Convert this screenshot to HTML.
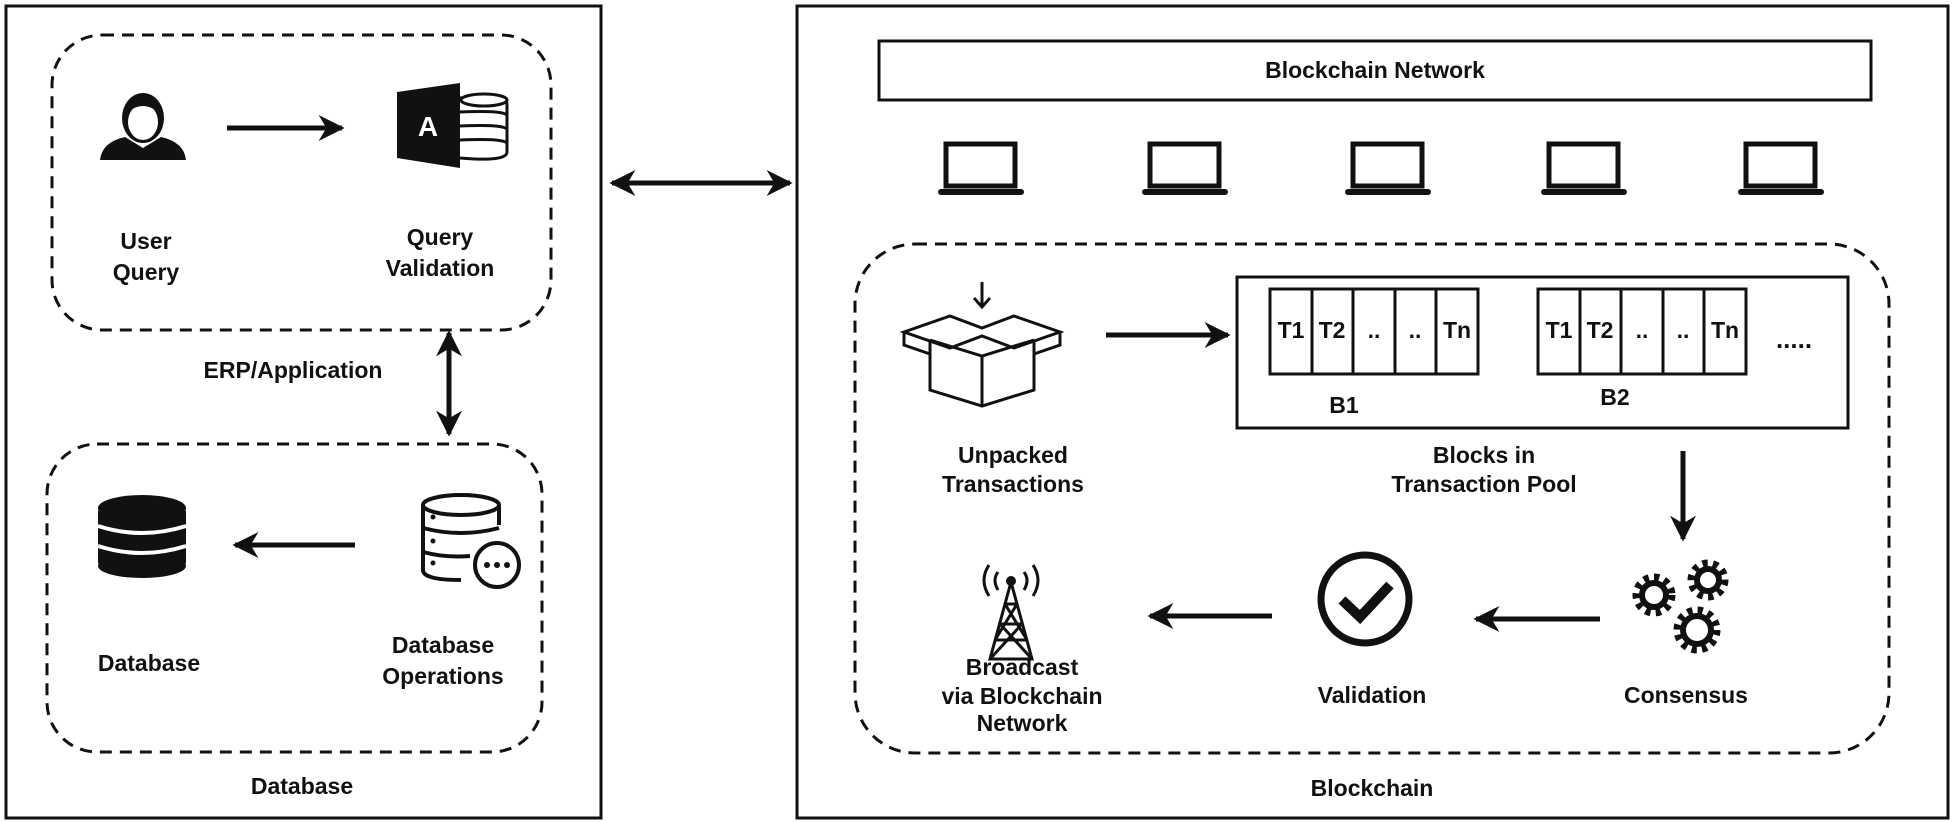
<!DOCTYPE html>
<html><head><meta charset="utf-8"><style>
html,body{margin:0;padding:0;background:#fff}
svg{display:block}
text{font-family:"Liberation Sans",Arial,sans-serif;font-weight:bold;font-size:23px;fill:#111;text-anchor:middle}
</style></head><body>
<svg width="1955" height="822" viewBox="0 0 1955 822" xmlns="http://www.w3.org/2000/svg">
<defs>
<marker id="ah" markerWidth="28" markerHeight="26" refX="9" refY="5" orient="auto-start-reverse" markerUnits="userSpaceOnUse" viewBox="0 0 10 10">
<path d="M0,0 L10,5 L0,10 L3,5 Z" fill="#111"/>
</marker>
</defs>
<g fill="none" stroke="#111">
<rect x="6" y="6" width="595" height="812" stroke-width="3"/>
<rect x="797" y="6" width="1151" height="812" stroke-width="3"/>
<rect x="52" y="35" width="499" height="295" rx="50" stroke-width="3" stroke-dasharray="12,8"/>
<rect x="47" y="444" width="495" height="308" rx="50" stroke-width="3" stroke-dasharray="12,8"/>
<rect x="855" y="244" width="1034" height="509" rx="60" stroke-width="3" stroke-dasharray="12,8"/>
<rect x="879" y="41" width="992" height="59" stroke-width="3"/>
<rect x="1237" y="277" width="611" height="151" stroke-width="3"/>
</g>
<g stroke="#111" stroke-width="5" fill="none">
<line x1="612" y1="183" x2="790" y2="183" marker-start="url(#ah)" marker-end="url(#ah)"/>
<line x1="449" y1="333" x2="449" y2="434" marker-start="url(#ah)" marker-end="url(#ah)"/>
<line x1="227" y1="128" x2="342" y2="128" marker-end="url(#ah)"/>
<line x1="355" y1="545" x2="235" y2="545" marker-end="url(#ah)"/>
<line x1="1106" y1="335" x2="1228" y2="335" marker-end="url(#ah)"/>
<line x1="1683" y1="451" x2="1683" y2="539" marker-end="url(#ah)"/>
<line x1="1600" y1="619" x2="1476" y2="619" marker-end="url(#ah)"/>
<line x1="1272" y1="616" x2="1150" y2="616" marker-end="url(#ah)"/>
</g>
<g fill="#111">
<ellipse cx="143" cy="118" rx="21" ry="25"/>
<path d="M100,160 Q102,142 125,137 L143,148 L161,137 Q184,142 186,160 Z"/>
</g>
<ellipse cx="143" cy="122" rx="15" ry="18" fill="#fff"/>
<path d="M128,112 Q143,100 158,112 L158,104 Q143,92 128,104Z" fill="#111"/>
<path d="M397,92 L460,83 L460,168 L397,158 Z" fill="#111"/>
<text x="428" y="136" style="fill:#fff;font-size:28px">A</text>
<g fill="#fff" stroke="#111" stroke-width="3">
<path d="M460,98 Q507,94 507,104 L507,152 Q507,162 460,158"/>
<path d="M460,112 Q507,110 507,116 M460,126 Q507,124 507,130 M460,140 Q507,138 507,144"/>
<ellipse cx="484" cy="100" rx="23" ry="6"/>
</g>
<g fill="#111">
<ellipse cx="142" cy="508" rx="44" ry="13"/>
<rect x="98" y="508" width="88" height="58" rx="4"/>
<ellipse cx="142" cy="566" rx="44" ry="12"/>
</g>
<g stroke="#fff" stroke-width="4" fill="none">
<path d="M98,526 Q142,540 186,526 M98,546 Q142,560 186,546"/>
</g>
<g fill="none" stroke="#111" stroke-width="4">
<ellipse cx="461" cy="505" rx="38" ry="10"/>
<path d="M423,505 L423,570 Q423,580 461,580 M499,505 L499,525"/>
<path d="M423,528 Q461,538 499,528 M423,552 Q445,558 470,556"/>
<circle cx="497" cy="565" r="22" fill="#fff"/>
</g>
<g fill="#111"><circle cx="487" cy="565" r="3"/><circle cx="497" cy="565" r="3"/><circle cx="507" cy="565" r="3"/>
<circle cx="433" cy="517" r="2.5"/><circle cx="433" cy="541" r="2.5"/><circle cx="433" cy="563" r="2.5"/></g>
<g fill="none" stroke="#111" stroke-width="5">
<rect x="946" y="144" width="69" height="42"/>
<rect x="1150" y="144" width="69" height="42"/>
<rect x="1353" y="144" width="69" height="42"/>
<rect x="1549" y="144" width="69" height="42"/>
<rect x="1746" y="144" width="69" height="42"/>
</g>
<g fill="#111">
<rect x="938" y="189" width="86" height="6" rx="3"/>
<rect x="1142" y="189" width="86" height="6" rx="3"/>
<rect x="1345" y="189" width="86" height="6" rx="3"/>
<rect x="1541" y="189" width="86" height="6" rx="3"/>
<rect x="1738" y="189" width="86" height="6" rx="3"/>
</g>
<g fill="none" stroke="#111" stroke-width="3">
<line x1="982" y1="282" x2="982" y2="307"/>
<path d="M974,298 L982,307 L990,298"/>
<path d="M930,340 L930,390 L982,406 L1034,390 L1034,340"/>
<line x1="982" y1="356" x2="982" y2="406"/>
<path d="M930,340 L982,356 L1034,340"/>
<path d="M904,332 L950,316 L982,328 L1014,316 L1060,332 L1014,348 L982,336 L950,348 Z"/>
<path d="M904,332 L904,345 L930,354 M1060,332 L1060,345 L1034,354"/>
</g>
<g fill="none" stroke="#111" stroke-width="3">
<rect x="1270" y="289" width="208" height="85"/>
<line x1="1312" y1="289" x2="1312" y2="374"/><line x1="1353" y1="289" x2="1353" y2="374"/>
<line x1="1395" y1="289" x2="1395" y2="374"/><line x1="1436" y1="289" x2="1436" y2="374"/>
<rect x="1538" y="289" width="208" height="85"/>
<line x1="1580" y1="289" x2="1580" y2="374"/><line x1="1621" y1="289" x2="1621" y2="374"/>
<line x1="1663" y1="289" x2="1663" y2="374"/><line x1="1704" y1="289" x2="1704" y2="374"/>
</g>
<g style="font-size:19px;font-weight:normal">
<text x="1291" y="338">T1</text><text x="1332" y="338">T2</text><text x="1374" y="338">..</text><text x="1415" y="338">..</text><text x="1457" y="338">Tn</text>
<text x="1559" y="338">T1</text><text x="1600" y="338">T2</text><text x="1642" y="338">..</text><text x="1683" y="338">..</text><text x="1725" y="338">Tn</text>
</g>
<text x="1794" y="348" style="font-size:26px">.....</text>
<g fill="none" stroke="#111" stroke-width="9" stroke-dasharray="5,5">
<circle cx="1654" cy="595" r="17"/><circle cx="1708" cy="580" r="16"/><circle cx="1697" cy="630" r="19"/>
</g>
<g fill="none" stroke="#111" stroke-width="6">
<circle cx="1654" cy="595" r="12"/><circle cx="1708" cy="580" r="11"/><circle cx="1697" cy="630" r="14"/>
</g>
<circle cx="1365" cy="599" r="44" fill="none" stroke="#111" stroke-width="7"/>
<path d="M1342,600 L1360,617 L1390,585" fill="none" stroke="#111" stroke-width="10"/>
<g fill="none" stroke="#111" stroke-width="3">
<path d="M990,659 L1011,582 L1032,659 Z M1000,624 L1022,624 M995,640 L1027,640 M1005,604 L1017,604 M990,659 L1022,624 M1032,659 L1000,624 M995,640 L1017,604 M1027,640 L1005,604"/>
<path d="M998,572 Q992,580 998,590 M1024,572 Q1030,580 1024,590 M989,565 Q979,580 989,596 M1033,565 Q1043,580 1033,596"/>
</g>
<circle cx="1011" cy="581" r="5" fill="#111"/>
<text x="146" y="249">User</text><text x="146" y="280">Query</text>
<text x="440" y="245">Query</text><text x="440" y="276">Validation</text>
<text x="293" y="378">ERP/Application</text>
<text x="149" y="671">Database</text>
<text x="443" y="653">Database</text><text x="443" y="684">Operations</text>
<text x="302" y="794">Database</text>
<text x="1375" y="78">Blockchain Network</text>
<text x="1344" y="413">B1</text><text x="1615" y="405">B2</text>
<text x="1013" y="463">Unpacked</text><text x="1013" y="492">Transactions</text>
<text x="1484" y="463">Blocks in</text><text x="1484" y="492">Transaction Pool</text>
<text x="1022" y="675">Broadcast</text><text x="1022" y="704">via Blockchain</text><text x="1022" y="731">Network</text>
<text x="1372" y="703">Validation</text>
<text x="1686" y="703">Consensus</text>
<text x="1372" y="796">Blockchain</text>
</svg>
</body></html>
